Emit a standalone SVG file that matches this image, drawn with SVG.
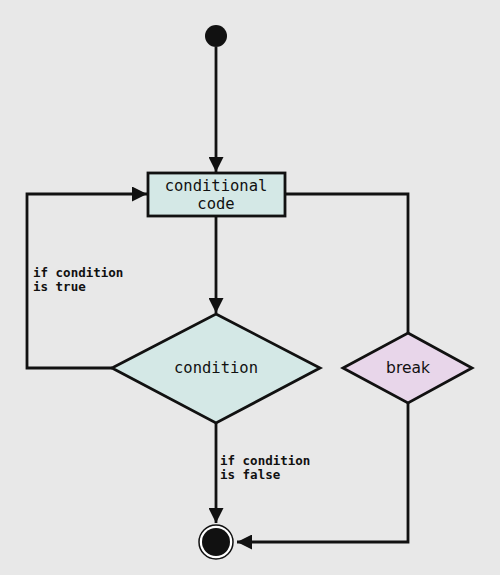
<svg xmlns="http://www.w3.org/2000/svg" width="500" height="575" viewBox="0 0 500 575">
<defs>
<marker id="arr" viewBox="0 0 10 10" refX="10" refY="5" markerWidth="15" markerHeight="15" markerUnits="userSpaceOnUse" orient="auto">
<path d="M0,0 L10,5 L0,10 z" fill="#111"/>
</marker>
<style>
.edge{fill:none;stroke:#111;stroke-width:2.8;marker-end:url(#arr)}
.line{fill:none;stroke:#111;stroke-width:2.8}
.node{stroke:#111;stroke-width:2.8}
.mono{font-family:"DejaVu Sans Mono","Liberation Mono",monospace;font-size:15.5px;fill:#111;text-anchor:middle}
.lbl{font-family:"DejaVu Sans Mono","Liberation Mono",monospace;font-size:12.5px;font-weight:bold;fill:#111}
</style>
</defs>
<rect width="500" height="575" fill="#e8e8e8"/>
<g id="connectors">
<path class="edge" d="M216,47 L216,172"/>
<path class="edge" d="M216,216 L216,313"/>
<path class="edge" d="M112,368 L27,368 L27,194 L147,194"/>
<path class="edge" d="M216,423 L216,523"/>
<path class="line" d="M285,194 L408,194 L408,333"/>
<path class="edge" d="M408,403 L408,542 L237,542"/>
</g>
<g id="start"><circle cx="216" cy="36" r="11" fill="#111"/></g>
<g id="code">
<rect class="node" x="148" y="173" width="137" height="43" fill="#d4e8e6"/>
<text class="mono" x="216" y="191">conditional</text>
<text class="mono" x="216" y="209">code</text>
</g>
<g id="condition">
<polygon class="node" points="216,314 320,368 216,423 112,368" fill="#d4e8e6"/>
<text class="mono" x="216" y="373">condition</text>
</g>
<g id="break">
<polygon class="node" points="408,333 472,368 408,403 343,368" fill="#e8d6ea"/>
<text x="408" y="373" style="font-family:'DejaVu Sans','Liberation Sans',sans-serif;font-size:15.5px;fill:#111;text-anchor:middle">break</text>
</g>
<g id="end">
<circle cx="216" cy="542" r="17" fill="#fff" stroke="#111" stroke-width="1.5"/>
<circle cx="216" cy="542" r="14" fill="#111"/>
</g>
<g id="labels">
<text class="lbl" x="33" y="277">if condition</text>
<text class="lbl" x="33" y="291">is true</text>
<text class="lbl" x="220" y="465">if condition</text>
<text class="lbl" x="220" y="479">is false</text>
</g>
</svg>
